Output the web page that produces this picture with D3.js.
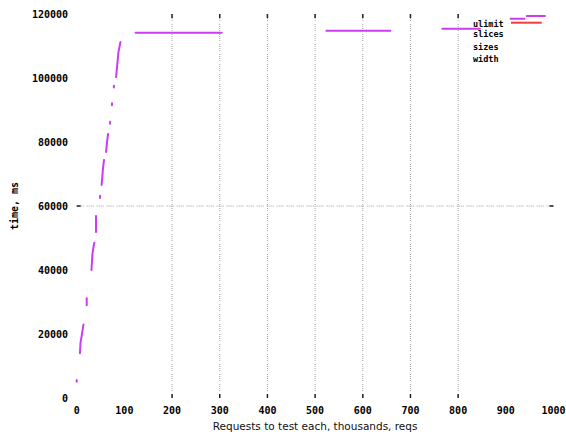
<!DOCTYPE html>
<html><head><meta charset="utf-8">
<script src="https://cdn.jsdelivr.net/npm/d3@7"></script>
<style>body{margin:0;background:#fff}svg{display:block}</style>
</head><body>
<svg id="c" width="566" height="435"></svg>
<script>
// ---- data ----
const xTicks = [0,100,200,300,400,500,600,700,800,900,1000];
const yTicks = [0,20000,40000,60000,80000,100000,120000];
const xGrid = [200,300,400,500,600,700,800];
const yGrid = [60000];
// visible pieces of the magenta series [x, y] (x: thousands of requests, y: time)
const seriesPieces = [
  [[0,5100],[0,5600]],
  [[6.8,14000],[8,17200],[10.5,19500],[14.3,23000]],
  [[21,29000],[21,31200]],
  [[31,40000],[33,45000],[35,47000],[37,48500]],
  [[40.5,51900],[40.5,56900]],
  [[49,62500],[49,63200]],
  [[52.3,66600],[55,71500],[57.3,74400]],
  [[61.6,76900],[64,80500],[65.8,82500]],
  [[70,85700],[70,86300]],
  [[74,91500],[74,92100]],
  [[78,97000],[78,97600]],
  [[82.6,100300],[84.4,103100],[87.6,108100],[91.8,111250]],
  [[123.4,114150],[304,114150]],
  [[523.6,114800],[657.8,114800]],
  [[767,115400],[845.6,115400]],
  [[910,118500],[939,118500]],
  [[944,119400],[982,119400]]
];
const legendLabels = ["ulimit","slices","sizes","width"];
const xTitle = "Requests to test each, thousands, reqs";
const yTitle = "time, ms";

// ---- chart ----
const svg = d3.select("#c");
const x = d3.scaleLinear().domain([0,1000]).range([76.7,553.5]);
const y = d3.scaleLinear().domain([0,120000]).range([398,14]);
const tickFont = "'DejaVu Sans Mono', monospace";

// grid
const g = svg.append("g");
g.selectAll("line.vg").data(xGrid).join("line")
  .attr("x1",d=>x(d)).attr("x2",d=>x(d)).attr("y1",y(120000)).attr("y2",y(0))
  .attr("stroke","#a0a0a0").attr("stroke-width",1).attr("stroke-dasharray","1,1,1,1,1,1,1,3");
g.selectAll("line.hg").data(yGrid).join("line")
  .attr("x1",x(0)).attr("x2",x(1000)).attr("y1",d=>y(d)).attr("y2",d=>y(d))
  .attr("stroke","#a0a0a0").attr("stroke-width",1).attr("stroke-dasharray","1,1,1,1,1,1,1,3");

// tick marks (only where grid drawn)
g.selectAll("line.tt").data(xGrid).join("line")
  .attr("x1",d=>x(d)).attr("x2",d=>x(d)).attr("y1",y(120000)).attr("y2",y(120000)+4)
  .attr("stroke","#222").attr("stroke-width",1.5);
g.selectAll("line.bt").data(xGrid).join("line")
  .attr("x1",d=>x(d)).attr("x2",d=>x(d)).attr("y1",y(0)-4).attr("y2",y(0))
  .attr("stroke","#222").attr("stroke-width",1.5);
g.selectAll("line.lt").data(yGrid).join("line")
  .attr("x1",x(0)).attr("x2",x(0)+4).attr("y1",d=>y(d)).attr("y2",d=>y(d))
  .attr("stroke","#222").attr("stroke-width",1.5);
g.selectAll("line.rt").data(yGrid).join("line")
  .attr("x1",x(1000)-4).attr("x2",x(1000)).attr("y1",d=>y(d)).attr("y2",d=>y(d))
  .attr("stroke","#222").attr("stroke-width",1.5);

// tick labels
svg.append("g").selectAll("text").data(xTicks).join("text")
  .attr("x",d=>x(d)).attr("y",414).attr("text-anchor","middle")
  .attr("font-family",tickFont).attr("font-weight","bold").attr("font-size",10)
  .text(d=>d);
svg.append("g").selectAll("text").data(yTicks).join("text")
  .attr("x",68).attr("y",d=>y(d)+3.5).attr("text-anchor","end")
  .attr("font-family",tickFont).attr("font-weight","bold").attr("font-size",10)
  .text(d=>d);

// titles
svg.append("text").attr("x",(x(0)+x(1000))/2).attr("y",430).attr("text-anchor","middle")
  .attr("font-family","'DejaVu Sans', sans-serif").attr("font-size",10.5).attr("fill","#111")
  .text(xTitle);
svg.append("text").attr("transform","translate(18,"+((y(0)+y(120000))/2)+") rotate(-90)")
  .attr("text-anchor","middle").attr("font-family",tickFont).attr("font-weight","bold")
  .attr("font-size",10).text(yTitle);

// series
const line = d3.line().x(d=>x(d[0])).y(d=>y(d[1]));
svg.append("g").selectAll("path").data(seriesPieces).join("path")
  .attr("d",line).attr("fill","none").attr("stroke","#cc3cf5").attr("stroke-width",2)
  .attr("stroke-linecap","round");

// legend
const lg = svg.append("g");
lg.selectAll("text").data(legendLabels).join("text")
  .attr("x",473).attr("y",(d,i)=>[27,37,50,62][i])
  .attr("font-family",tickFont).attr("font-weight","bold").attr("font-size",8.5)
  .text(d=>d);
lg.append("line").attr("x1",511).attr("x2",541.7).attr("y1",22.7).attr("y2",22.7)
  .attr("stroke","#f03c3c").attr("stroke-width",2);
</script>
</body></html>
